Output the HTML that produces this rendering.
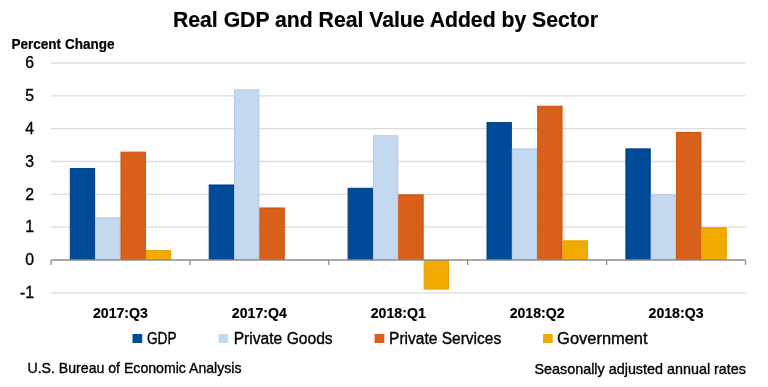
<!DOCTYPE html>
<html><head><meta charset="utf-8"><title>Real GDP and Real Value Added by Sector</title>
<style>
html,body{margin:0;padding:0;background:#fff;}
body{width:768px;height:387px;overflow:hidden;font-family:"Liberation Sans", sans-serif;}
svg{display:block;font-family:"Liberation Sans", sans-serif;will-change:transform;}
</style></head><body>
<svg width="768" height="387" viewBox="0 0 768 387">
<rect width="768" height="387" fill="#fff"/>
<line x1="51.0" y1="63.02" x2="745.5" y2="63.02" stroke="#dcdcdc" stroke-width="1.3"/>
<line x1="51.0" y1="95.85" x2="745.5" y2="95.85" stroke="#dcdcdc" stroke-width="1.3"/>
<line x1="51.0" y1="128.68" x2="745.5" y2="128.68" stroke="#dcdcdc" stroke-width="1.3"/>
<line x1="51.0" y1="161.51" x2="745.5" y2="161.51" stroke="#dcdcdc" stroke-width="1.3"/>
<line x1="51.0" y1="194.34" x2="745.5" y2="194.34" stroke="#dcdcdc" stroke-width="1.3"/>
<line x1="51.0" y1="227.17" x2="745.5" y2="227.17" stroke="#dcdcdc" stroke-width="1.3"/>
<line x1="51.0" y1="292.83" x2="745.5" y2="292.83" stroke="#dcdcdc" stroke-width="1.3"/>
<rect x="70.30" y="168.58" width="24.35" height="90.92" fill="#004b98" stroke="#003a8c" stroke-width="1"/>
<rect x="95.65" y="217.82" width="24.35" height="41.68" fill="#c4d8f0" stroke="#b2cae7" stroke-width="1"/>
<rect x="121.00" y="152.16" width="24.35" height="107.34" fill="#d9601a" stroke="#cc4d08" stroke-width="1"/>
<rect x="146.35" y="250.65" width="24.35" height="8.85" fill="#f2a900" stroke="#e89c00" stroke-width="1"/>
<rect x="209.20" y="184.99" width="24.35" height="74.51" fill="#004b98" stroke="#003a8c" stroke-width="1"/>
<rect x="234.55" y="89.78" width="24.35" height="169.72" fill="#c4d8f0" stroke="#b2cae7" stroke-width="1"/>
<rect x="259.90" y="207.97" width="24.35" height="51.53" fill="#d9601a" stroke="#cc4d08" stroke-width="1"/>
<rect x="348.10" y="188.27" width="24.35" height="71.23" fill="#004b98" stroke="#003a8c" stroke-width="1"/>
<rect x="373.45" y="135.75" width="24.35" height="123.75" fill="#c4d8f0" stroke="#b2cae7" stroke-width="1"/>
<rect x="398.80" y="194.84" width="24.35" height="64.66" fill="#d9601a" stroke="#cc4d08" stroke-width="1"/>
<rect x="424.15" y="260.50" width="24.35" height="28.55" fill="#f2a900" stroke="#e89c00" stroke-width="1"/>
<rect x="487.00" y="122.61" width="24.35" height="136.89" fill="#004b98" stroke="#003a8c" stroke-width="1"/>
<rect x="512.35" y="148.88" width="24.35" height="110.62" fill="#c4d8f0" stroke="#b2cae7" stroke-width="1"/>
<rect x="537.70" y="106.20" width="24.35" height="153.30" fill="#d9601a" stroke="#cc4d08" stroke-width="1"/>
<rect x="563.05" y="240.80" width="24.35" height="18.70" fill="#f2a900" stroke="#e89c00" stroke-width="1"/>
<rect x="625.90" y="148.88" width="24.35" height="110.62" fill="#004b98" stroke="#003a8c" stroke-width="1"/>
<rect x="651.25" y="194.84" width="24.35" height="64.66" fill="#c4d8f0" stroke="#b2cae7" stroke-width="1"/>
<rect x="676.60" y="132.46" width="24.35" height="127.04" fill="#d9601a" stroke="#cc4d08" stroke-width="1"/>
<rect x="701.95" y="227.67" width="24.35" height="31.83" fill="#f2a900" stroke="#e89c00" stroke-width="1"/>
<line x1="51.0" y1="260.0" x2="745.5" y2="260.0" stroke="#8c8c8c" stroke-width="1.3"/>
<line x1="51.00" y1="260.0" x2="51.00" y2="265.0" stroke="#8c8c8c" stroke-width="1.3"/>
<line x1="189.90" y1="260.0" x2="189.90" y2="265.0" stroke="#8c8c8c" stroke-width="1.3"/>
<line x1="328.80" y1="260.0" x2="328.80" y2="265.0" stroke="#8c8c8c" stroke-width="1.3"/>
<line x1="467.70" y1="260.0" x2="467.70" y2="265.0" stroke="#8c8c8c" stroke-width="1.3"/>
<line x1="606.60" y1="260.0" x2="606.60" y2="265.0" stroke="#8c8c8c" stroke-width="1.3"/>
<line x1="745.50" y1="260.0" x2="745.50" y2="265.0" stroke="#8c8c8c" stroke-width="1.3"/>
<text x="34" y="68.22" text-anchor="end" font-size="15.8" fill="#000" stroke="#000" stroke-width="0.35">6</text>
<text x="34" y="101.05" text-anchor="end" font-size="15.8" fill="#000" stroke="#000" stroke-width="0.35">5</text>
<text x="34" y="133.88" text-anchor="end" font-size="15.8" fill="#000" stroke="#000" stroke-width="0.35">4</text>
<text x="34" y="166.71" text-anchor="end" font-size="15.8" fill="#000" stroke="#000" stroke-width="0.35">3</text>
<text x="34" y="199.54" text-anchor="end" font-size="15.8" fill="#000" stroke="#000" stroke-width="0.35">2</text>
<text x="34" y="232.37" text-anchor="end" font-size="15.8" fill="#000" stroke="#000" stroke-width="0.35">1</text>
<text x="34" y="265.20" text-anchor="end" font-size="15.8" fill="#000" stroke="#000" stroke-width="0.35">0</text>
<text x="34" y="298.03" text-anchor="end" font-size="15.8" fill="#000" stroke="#000" stroke-width="0.35">-1</text>
<text x="120.45" y="318.3" text-anchor="middle" font-size="15.4" font-weight="bold" fill="#000" stroke="#000" stroke-width="0.2" textLength="55" lengthAdjust="spacingAndGlyphs">2017:Q3</text>
<text x="259.35" y="318.3" text-anchor="middle" font-size="15.4" font-weight="bold" fill="#000" stroke="#000" stroke-width="0.2" textLength="55" lengthAdjust="spacingAndGlyphs">2017:Q4</text>
<text x="398.25" y="318.3" text-anchor="middle" font-size="15.4" font-weight="bold" fill="#000" stroke="#000" stroke-width="0.2" textLength="55" lengthAdjust="spacingAndGlyphs">2018:Q1</text>
<text x="537.15" y="318.3" text-anchor="middle" font-size="15.4" font-weight="bold" fill="#000" stroke="#000" stroke-width="0.2" textLength="55" lengthAdjust="spacingAndGlyphs">2018:Q2</text>
<text x="676.05" y="318.3" text-anchor="middle" font-size="15.4" font-weight="bold" fill="#000" stroke="#000" stroke-width="0.2" textLength="55" lengthAdjust="spacingAndGlyphs">2018:Q3</text>
<text x="173" y="26.5" font-size="22.2" font-weight="bold" fill="#000" stroke="#000" stroke-width="0.2" textLength="425" lengthAdjust="spacingAndGlyphs">Real GDP and Real Value Added by Sector</text>
<text x="11.5" y="48.6" font-size="14" font-weight="bold" fill="#000" stroke="#000" stroke-width="0.2" textLength="103" lengthAdjust="spacingAndGlyphs">Percent Change</text>
<rect x="132.5" y="334" width="9.7" height="9" fill="#004b98"/>
<text x="146.9" y="344.1" font-size="16" fill="#000" stroke="#000" stroke-width="0.35" textLength="29.7" lengthAdjust="spacingAndGlyphs">GDP</text>
<rect x="218.5" y="334" width="9.7" height="9" fill="#c4d8f0"/>
<text x="233.7" y="344.1" font-size="16" fill="#000" stroke="#000" stroke-width="0.35" textLength="99.0" lengthAdjust="spacingAndGlyphs">Private Goods</text>
<rect x="374.6" y="334" width="9.7" height="9" fill="#d9601a"/>
<text x="389.1" y="344.1" font-size="16" fill="#000" stroke="#000" stroke-width="0.35" textLength="112.1" lengthAdjust="spacingAndGlyphs">Private Services</text>
<rect x="543" y="334" width="9.7" height="9" fill="#f2a900"/>
<text x="557.1" y="344.1" font-size="16" fill="#000" stroke="#000" stroke-width="0.35" textLength="90.5" lengthAdjust="spacingAndGlyphs">Government</text>
<text x="27.5" y="373.3" font-size="14.8" fill="#000" stroke="#000" stroke-width="0.35" textLength="214" lengthAdjust="spacingAndGlyphs">U.S. Bureau of Economic Analysis</text>
<text x="534.5" y="374.2" font-size="14.8" fill="#000" stroke="#000" stroke-width="0.35" textLength="211.5" lengthAdjust="spacingAndGlyphs">Seasonally adjusted annual rates</text>
</svg>
</body></html>
